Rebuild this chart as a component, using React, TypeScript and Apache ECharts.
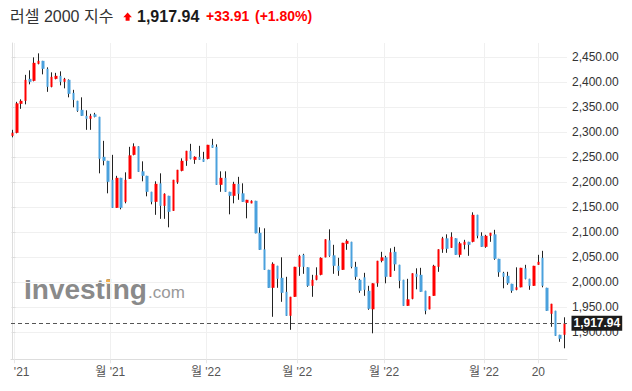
import React, { useEffect, useRef } from "react";
import * as echarts from "echarts";

const title = "러셀 2000 지수";
const lastPrice = 1917.94;
const lastPriceText = "1,917.94";
const changeText = "+33.91";
const changePctText = "(+1.80%)";

const opens = [
  2293, 2299, 2357, 2363, 2407, 2403, 2437, 2443, 2427, 2391,
  2407, 2413, 2401, 2405, 2379, 2363, 2345, 2333, 2327, 2336,
  2331, 2251, 2243, 2205, 2149, 2209, 2161, 2207, 2255, 2272,
  2222, 2213, 2181, 2161, 2198, 2153, 2173, 2143, 2200, 2223,
  2243, 2263, 2245, 2251, 2247, 2247, 2275, 2271, 2195, 2209,
  2181, 2173, 2197, 2178, 2159, 2158, 2163, 2099, 2066, 2025,
  1989, 2033, 2009, 1981, 1933, 1971, 2031, 2055, 2030, 1993,
  2005, 2015, 2050, 2084, 2054, 2033, 2025, 2077, 2081, 2031,
  2005, 2010, 1983, 1946, 1998, 2043, 2050, 2011, 2061, 2035,
  2005, 1953, 1967, 2017, 2015, 1983, 1946, 1973, 2031, 2066,
  2088, 2069, 2088, 2055, 2075, 2081, 2081, 2135, 2093, 2071,
  2093, 2096, 2047, 2019, 2013, 1997, 1985, 1990, 2028, 2007,
  1993, 2035, 2049, 1989, 1937, 1943, 1895, 1895,
];
const closes = [
  2299, 2358, 2363, 2405, 2401, 2439, 2443, 2427, 2391, 2411,
  2413, 2401, 2407, 2377, 2365, 2343, 2333, 2327, 2333, 2331,
  2247, 2243, 2201, 2149, 2209, 2149, 2205, 2254, 2272, 2221,
  2213, 2181, 2161, 2197, 2153, 2177, 2141, 2205, 2225, 2243,
  2263, 2247, 2251, 2245, 2241, 2275, 2269, 2195, 2209, 2181,
  2173, 2197, 2177, 2161, 2165, 2163, 2098, 2065, 2025, 1989,
  2037, 2007, 1979, 1933, 1971, 2031, 2053, 2031, 1993, 2005,
  2014, 2049, 2086, 2053, 2033, 2023, 2079, 2083, 2031, 2011,
  1983, 1985, 1947, 1998, 2043, 2050, 2011, 2060, 2036, 2003,
  1953, 1966, 2018, 2011, 1981, 1943, 1972, 2033, 2066, 2088,
  2067, 2091, 2055, 2078, 2081, 2075, 2135, 2093, 2071, 2093,
  2099, 2047, 2020, 2011, 1998, 1983, 1990, 2029, 2007, 1993,
  2033, 2041, 1993, 1943, 1957, 1893, 1887, 1917.94,
];
const highs = [
  2305, 2361, 2366, 2415, 2424, 2450, 2458, 2443, 2430, 2420,
  2419, 2422, 2409, 2406, 2385, 2363, 2370, 2344, 2337, 2339,
  2331, 2283, 2243, 2255, 2213, 2209, 2220, 2271, 2278, 2272,
  2242, 2213, 2181, 2202, 2218, 2178, 2173, 2205, 2225, 2248,
  2263, 2277, 2252, 2273, 2261, 2275, 2287, 2276, 2222, 2222,
  2181, 2201, 2211, 2198, 2165, 2164, 2163, 2110, 2108, 2025,
  2040, 2033, 2050, 2011, 1971, 2031, 2055, 2057, 2030, 2015,
  2030, 2050, 2086, 2106, 2075, 2049, 2079, 2086, 2081, 2041,
  2007, 2019, 1993, 1998, 2043, 2061, 2053, 2068, 2071, 2035,
  2005, 2007, 2018, 2028, 2029, 1983, 1972, 2035, 2066, 2091,
  2096, 2100, 2088, 2081, 2085, 2081, 2140, 2135, 2100, 2095,
  2099, 2105, 2047, 2021, 2021, 1997, 2030, 2029, 2035, 2007,
  2033, 2055, 2063, 1989, 1957, 1943, 1895, 1930,
];
const lows = [
  2290, 2298, 2347, 2356, 2396, 2402, 2436, 2416, 2381, 2390,
  2406, 2394, 2388, 2370, 2350, 2341, 2333, 2305, 2305, 2330,
  2218, 2234, 2178, 2149, 2149, 2146, 2158, 2207, 2254, 2221,
  2202, 2172, 2156, 2135, 2127, 2127, 2110, 2143, 2197, 2222,
  2233, 2246, 2237, 2245, 2241, 2246, 2269, 2195, 2181, 2181,
  2136, 2158, 2165, 2161, 2128, 2158, 2098, 2065, 2025, 1989,
  1931, 1989, 1961, 1933, 1905, 1971, 2013, 2017, 1991, 1971,
  2004, 2014, 2050, 2051, 2017, 2013, 2025, 2065, 2028, 2005,
  1979, 1973, 1945, 1898, 1991, 2040, 1998, 2011, 2023, 1988,
  1953, 1953, 1966, 1986, 1981, 1936, 1946, 1973, 2021, 2059,
  2059, 2069, 2055, 2050, 2066, 2053, 2080, 2088, 2071, 2069,
  2081, 2045, 2011, 1988, 1995, 1979, 1984, 1990, 2006, 1985,
  1993, 2035, 1990, 1943, 1911, 1893, 1881, 1868,
];

// x-axis ticks (in candle-index units) and their labels
const tickPositions = [0.5, 22.5, 44.5, 65.5, 85.5, 108.5, 121];
const tickLabels = ["'21", "월 '21", "월 '22", "월 '22", "월 '22", "월 '22", "20"];
const priceTicks = [1900, 1950, 2000, 2050, 2100, 2150, 2200, 2250, 2300, 2350, 2400, 2450];

const FONT = "'Liberation Sans', 'Noto Sans CJK KR', Arial, sans-serif";
const UP = "#ff0000";
const DOWN = "#4aa1dd";
const WICK = "#222222";

const fmt2 = (v: number) =>
  v.toLocaleString("en-US", { minimumFractionDigits: 2, maximumFractionDigits: 2 });

const labelFor = (v: number) => {
  let best = 0;
  for (let k = 1; k < tickPositions.length; k++) {
    if (Math.abs(tickPositions[k] - v) < Math.abs(tickPositions[best] - v)) best = k;
  }
  return best;
};

export default function App() {
  const ref = useRef<HTMLDivElement>(null);
  useEffect(() => {
    if (!ref.current) return;
    const chart = echarts.init(ref.current, undefined, { renderer: "svg" });
    const wickData = opens.map((o, i) => [i, o, closes[i], lows[i], highs[i]]);
    const bodyData = opens.map((o, i) => [
      i,
      o,
      closes[i],
      Math.min(o, closes[i]),
      Math.max(o, closes[i]),
    ]);
    chart.setOption({
      animation: false,
      backgroundColor: "#ffffff",
      grid: { left: 11, right: 65, top: 43, bottom: 31.7, containLabel: false },
      xAxis: {
        type: "value",
        min: -0.345,
        max: 127.6,
        axisLine: { show: true, lineStyle: { color: "#dddddd", width: 1 } },
        axisTick: {
          show: true,
          customValues: tickPositions,
          length: 4,
          lineStyle: { color: "#e6e6e6" },
        },
        axisLabel: {
          show: true,
          customValues: tickPositions,
          showMinLabel: true,
          showMaxLabel: true,
          margin: 7,
          color: "#555555",
          fontSize: 12,
          fontFamily: FONT,
          formatter: (v: number) => {
            const k = labelFor(v);
            return k === 0 ? `{first|${tickLabels[0]}}` : tickLabels[k];
          },
          rich: {
            first: {
              padding: [0, 0, 0, 14],
              color: "#555555",
              fontSize: 12,
              fontFamily: FONT,
            },
          },
        },
        splitLine: { show: true, lineStyle: { color: "#f0f0f0", width: 1 } },
      },
      yAxis: {
        type: "value",
        position: "right",
        min: 1846,
        max: 2478.7,
        scale: true,
        axisLine: { show: true, lineStyle: { color: "#dddddd", width: 1 } },
        axisTick: {
          show: true,
          customValues: priceTicks,
          length: 3,
          lineStyle: { color: "#dddddd" },
        },
        axisLabel: {
          show: true,
          customValues: priceTicks,
          margin: 5,
          color: "#333333",
          fontSize: 12,
          fontFamily: FONT,
          formatter: (v: number) => fmt2(v),
        },
        splitLine: { show: true, lineStyle: { color: "#f0f0f0", width: 1 } },
      },
      series: [
        {
          type: "candlestick",
          name: "wick",
          data: wickData,
          encode: { x: 0, y: [1, 2, 3, 4] },
          barWidth: 1,
          itemStyle: {
            color: WICK,
            color0: WICK,
            borderColor: WICK,
            borderColor0: WICK,
            borderWidth: 1,
          },
          silent: true,
          markLine: {
            silent: true,
            symbol: ["none", "none"],
            lineStyle: { color: "#555555", type: [4, 3], width: 1.2 },
            label: {
              show: true,
              position: "end",
              distance: 4.5,
              formatter: lastPriceText,
              color: "#ffffff",
              backgroundColor: "#1c1c1c",
              fontSize: 12,
              fontWeight: "bold",
              fontFamily: FONT,
              padding: [1, 2, 1, 2],
              lineHeight: 13,
            },
            data: [{ yAxis: lastPrice }],
          },
        },
        {
          type: "candlestick",
          name: "body",
          data: bodyData,
          encode: { x: 0, y: [1, 2, 3, 4] },
          barWidth: 3,
          itemStyle: {
            color: UP,
            color0: DOWN,
            borderColor: UP,
            borderColor0: DOWN,
            borderWidth: 0,
          },
          silent: true,
        },
      ],
      graphic: [
        {
          type: "text",
          x: 10,
          y: 16,
          style: {
            text: title,
            fill: "#333333",
            font: `16px ${FONT}`,
            verticalAlign: "middle",
          },
        },
        {
          type: "polygon",
          shape: {
            points: [
              [123.3, 17.2],
              [127.6, 12.6],
              [131.9, 17.2],
              [129.6, 17.2],
              [129.6, 20.8],
              [125.6, 20.8],
              [125.6, 17.2],
            ],
          },
          style: { fill: UP },
        },
        {
          type: "text",
          x: 137,
          y: 16,
          style: {
            text: lastPriceText,
            fill: "#1a1a1a",
            font: `bold 16px ${FONT}`,
            verticalAlign: "middle",
          },
        },
        {
          type: "text",
          x: 206,
          y: 16,
          style: {
            text: changeText,
            fill: UP,
            font: `bold 14px ${FONT}`,
            verticalAlign: "middle",
          },
        },
        {
          type: "text",
          x: 255,
          y: 16,
          style: {
            text: changePctText,
            fill: UP,
            font: `bold 14px ${FONT}`,
            verticalAlign: "middle",
          },
        },
        {
          type: "text",
          x: 24,
          y: 289,
          z: -1,
          style: {
            text: "Investing",
            fill: "#8a8a8a",
            font: `bold 28px ${FONT}`,
            verticalAlign: "middle",
          },
        },
        {
          type: "rect",
          z: -1,
          shape: { x: 106, y: 279.5, width: 4.5, height: 4 },
          style: { fill: "#f3b04a" },
        },
        {
          type: "text",
          x: 148,
          y: 292,
          z: -1,
          style: {
            text: ".com",
            fill: "#999999",
            font: `17px ${FONT}`,
            verticalAlign: "middle",
          },
        },
      ],
    });
    return () => chart.dispose();
  }, []);
  return (
    <div
      ref={ref}
      style={{ position: "fixed", left: 0, top: 0, width: 632, height: 391, background: "#fff" }}
    />
  );
}
